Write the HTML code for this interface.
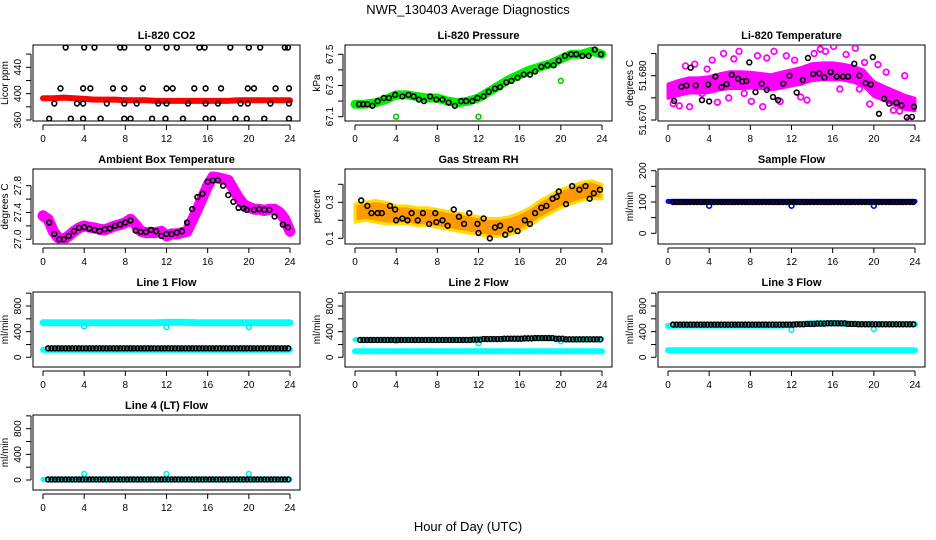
<!DOCTYPE html>
<html><head><meta charset="utf-8"><style>
body{margin:0;background:#fff}
svg{display:block;font-family:"Liberation Sans",sans-serif}
</style></head><body>
<svg id="chart" width="936" height="540" viewBox="0 0 936 540" xmlns="http://www.w3.org/2000/svg">
<rect width="936" height="540" fill="#fff"/>
<text x="468" y="14" font-size="13" text-anchor="middle">NWR_130403  Average Diagnostics</text>
<text x="468" y="531" font-size="13" text-anchor="middle">Hour of Day (UTC)</text>
</svg>
<script>
const hours = [0,1,2,3,4,5,6,7,8,9,10,11,12,13,14,15,16,17,18,19,20,21,22,23,24];
const halfHours = [0,0.5,1,1.5,2,2.5,3,3.5,4,4.5,5,5.5,6,6.5,7,7.5,8,8.5,9,9.5,10,10.5,11,11.5,12,12.5,13,13.5,14,14.5,15,15.5,16,16.5,17,17.5,18,18.5,19,19.5,20,20.5,21,21.5,22,22.5,23,23.5,24];
const xTicks = [0,4,8,12,16,20,24];

// CO2
const co2Band = [393,393,394,393,392,391,391,391,390,390,390,389,389,389,389,389,389,389,389,390,390,390,390,390,390];
const co2TopT = [2.2,4,5,7.5,7.9,10.2,12,13,15.2,15.7,18.2,20,21.1,23.5,23.8];
const co2MidT = [1.7,3.9,4.6,6.8,7.9,9.7,12,12.6,14.7,15.8,17.3,19.9,20.5,22.6,23.9];
const co2LowT = [1.1,3.3,3.9,6.2,7.9,9.1,11.2,12,14.1,15.8,17,19.2,19.9,22.1,23.9];
const co2BotT = [0.6,2.7,3.9,5.6,7.9,8.5,10.6,11.9,13.6,15.8,16.5,18.7,19.8,21.5,23.9];
const co2Levels = [470,408,385,362];

// Pressure
const presBand = [67.18,67.18,67.19,67.21,67.24,67.24,67.23,67.22,67.22,67.2,67.19,67.2,67.22,67.26,67.3,67.34,67.37,67.4,67.42,67.44,67.47,67.5,67.5,67.52,67.5];
const presOutT = [4,12,20];
const presOutV = [67.1,67.1,67.33];
const presBlackT = [0.4,0.8,1.2,1.7,2.2,2.8,3.3,3.9,4.6,5.2,5.7,6.2,6.7,7.3,7.9,8.5,9.1,9.7,10.3,10.8,11.4,11.9,12.5,13,13.6,14.1,14.7,15.2,15.8,16.4,17,17.5,18.1,18.7,19.3,19.8,20.4,21,21.5,22.1,22.7,23.3,23.9];
const presBlackV = [67.18,67.18,67.18,67.17,67.2,67.22,67.22,67.24,67.23,67.24,67.23,67.21,67.2,67.23,67.21,67.21,67.19,67.17,67.2,67.2,67.2,67.22,67.23,67.26,67.28,67.29,67.32,67.33,67.35,67.37,67.37,67.39,67.42,67.43,67.43,67.46,67.49,67.5,67.5,67.49,67.49,67.53,67.5];

// Li-820 temperature
const tempMid = [51.6765,51.6772,51.6778,51.6778,51.678,51.6786,51.679,51.679,51.679,51.6788,51.6785,51.679,51.6795,51.680,51.6808,51.681,51.681,51.6808,51.6803,51.6795,51.677,51.676,51.675,51.674,51.6735];
const tempHalf = [0.0016,0.0017,0.0017,0.0017,0.0018,0.0018,0.0019,0.0019,0.0018,0.0017,0.0017,0.0018,0.0018,0.0019,0.0019,0.0019,0.0019,0.0018,0.0018,0.0018,0.0017,0.0016,0.0016,0.0016,0.0014];
const tempScatT = [0.5,1.1,1.7,2.1,2.6,3.3,3.8,4.3,4.8,5.4,5.9,6.4,6.9,7.4,8.1,8.7,9.2,9.6,10.3,10.9,11.5,12.3,12.9,13.5,14.2,14.8,15.3,16.1,16.7,17.3,18.2,18.6,19.1,19.6,20.4,21.2,21.9,22.5,23,23.4];
const tempScatV = [51.6737,51.6732,51.6822,51.6730,51.6826,51.6760,51.6815,51.6835,51.6740,51.6850,51.6750,51.6838,51.6855,51.6760,51.6742,51.6845,51.6730,51.6840,51.6855,51.6742,51.6845,51.6835,51.6752,51.6745,51.6850,51.6860,51.6855,51.6866,51.6770,51.6848,51.6862,51.6770,51.6830,51.6736,51.6825,51.6808,51.6722,51.6720,51.6800,51.6700];
const tempBlackT = [0.6,1.3,1.8,2.2,2.7,3.3,3.9,4,4.6,5.2,5.7,6.2,6.8,7.2,7.6,7.9,8.5,9.1,9.6,10.2,10.7,11.2,11.8,12.5,13.1,13.6,14.1,14.7,15.2,15.8,16.4,17,17.5,18.1,18.6,19.2,19.7,19.9,20.5,21,21.5,22.2,22.7,23.2,23.7,23.9];
const tempBlackV = [51.6743,51.6775,51.6778,51.6818,51.6778,51.6745,51.6780,51.6742,51.6798,51.6774,51.6781,51.6802,51.6793,51.6787,51.6788,51.6830,51.6763,51.6782,51.6768,51.6752,51.6745,51.6782,51.6800,51.6762,51.6790,51.6840,51.6804,51.6805,51.6796,51.6808,51.6798,51.6798,51.6798,51.6827,51.6800,51.6783,51.6780,51.6842,51.6714,51.6748,51.6737,51.6739,51.6733,51.6706,51.6707,51.6730];

// Ambient box temperature
const ambBand = [27.35,27.3,27.12,27.02,27.0,27.05,27.12,27.17,27.2,27.18,27.17,27.15,27.14,27.17,27.2,27.22,27.25,27.3,27.22,27.12,27.1,27.1,27.1,27.12,27.05,27.08,27.08,27.1,27.12,27.28,27.45,27.62,27.8,27.93,27.92,27.9,27.88,27.75,27.62,27.52,27.48,27.45,27.45,27.43,27.45,27.45,27.4,27.3,27.12];
const ambBlackT = [0.6,1.1,1.6,2,2.5,3,3.5,4,4.5,5,5.5,6,6.5,7,7.5,8,8.5,9,9.5,10,10.5,11,11.5,12,12.5,13,13.5,14,14.5,15,15.5,16,16.5,17,17.5,18,18.5,19,19.5,19.8,20.5,21,21.5,22,22.5,23.3,23.8];
const ambBlackV = [27.25,27.08,27.0,27.0,27.05,27.12,27.17,27.18,27.16,27.14,27.12,27.15,27.16,27.2,27.22,27.25,27.28,27.13,27.11,27.11,27.14,27.12,27.05,27.08,27.08,27.1,27.12,27.25,27.45,27.63,27.68,27.86,27.88,27.88,27.8,27.66,27.56,27.47,27.46,27.44,27.44,27.45,27.44,27.44,27.34,27.22,27.18];

// Gas stream RH
const rhMid = [0.24,0.25,0.25,0.24,0.23,0.23,0.22,0.22,0.21,0.2,0.19,0.18,0.17,0.16,0.16,0.17,0.19,0.22,0.26,0.29,0.32,0.34,0.36,0.37,0.36];
const rhHalf = [0.05,0.05,0.06,0.06,0.05,0.05,0.05,0.05,0.05,0.05,0.05,0.05,0.05,0.05,0.05,0.05,0.05,0.05,0.05,0.05,0.05,0.05,0.05,0.05,0.04];
const rhBlackT = [0.6,1.2,1.6,2.2,2.6,3.4,3.9,4,4.6,5.1,5.5,6.1,6.6,7.2,7.8,7.9,8.5,9,9.6,10.1,10.6,11.1,11.9,12,12.5,13.1,13.6,14.1,14.6,15.1,15.8,16.5,17,17.5,18.1,18.6,19.2,19.6,19.8,20.5,21.1,21.8,22.4,22.8,23.2,23.8];
const rhBlackV = [0.31,0.28,0.24,0.24,0.24,0.28,0.26,0.2,0.21,0.2,0.24,0.2,0.24,0.18,0.24,0.19,0.2,0.17,0.26,0.22,0.18,0.24,0.18,0.13,0.21,0.1,0.16,0.17,0.12,0.15,0.14,0.2,0.18,0.24,0.27,0.28,0.32,0.33,0.36,0.29,0.39,0.37,0.39,0.32,0.35,0.37];

// Flows (hourly values)
const sampleBlue = [102,102,102,102,102,102,102,102,102,102,102,102,102,102,102,102,102,102,102,102,102,102,102,102,102];
const sampleBlack = [100,100,100,100,100,100,100,100,100,100,100,100,100,100,100,100,100,100,100,100,100,100,100,100,100];
const dipT = [4,12,20];
const sampleDip = [88,88,88];
const line1Upper = [540,540,540,540,540,540,540,540,540,540,540,540,545,545,545,540,540,540,540,540,540,540,540,540,540];
const line1Lower = [115,115,115,115,115,115,115,115,115,115,115,115,115,115,115,115,115,115,115,115,115,115,115,115,115];
const line1Black = [140,140,140,140,140,140,140,140,140,140,140,140,140,140,140,140,140,140,140,140,140,140,140,140,140];
const line1Dip = [480,470,470];
const line2Upper = [275,275,275,275,275,275,275,275,275,275,275,275,285,285,290,295,300,300,300,295,285,285,285,285,285];
const line2Lower = [95,95,95,95,95,95,95,95,95,95,95,95,95,95,95,95,95,95,95,95,95,95,95,95,95];
const line2Black = [270,270,270,270,270,270,270,270,270,270,270,275,285,285,290,290,295,300,300,290,280,280,280,280,280];
const line2Dip = [260,220,250];
const line3Upper = [490,495,495,495,495,495,495,495,495,495,495,495,510,520,530,530,535,525,520,520,515,515,515,515,515];
const line3Lower = [110,110,110,110,110,110,110,110,110,110,110,110,110,110,110,110,110,110,110,110,110,110,110,110,110];
const line3Black = [510,510,510,510,510,510,510,510,510,510,510,510,515,520,525,530,530,520,515,515,515,515,515,515,515];
const line3Dip = [500,430,440];
const line4Cyan = [10,10,10,10,10,10,10,10,10,10,10,10,10,10,10,10,10,10,10,10,10,10,10,10,10];
const line4Black = [8,8,8,8,8,8,8,8,8,8,8,8,8,8,8,8,8,8,8,8,8,8,8,8,8];
const line4Out = [95,95,95];

const svg = document.getElementById('chart');
const NS = 'http://www.w3.org/2000/svg';
const colX0 = [43,355,668];
const rowsTB = [[45,121],[169,244],[292,367],[415,490]];
const PXH = 247/24;

function mk(tag, attrs, parent){
  const e = document.createElementNS(NS, tag);
  for (const k in attrs) e.setAttribute(k, attrs[k]);
  (parent||svg).appendChild(e);
  return e;
}

function panel(name, title, ytitle, col, row, v1, p1, v2, p2, yTicks, yLabels, fmt){
  const g = mk('g', {});
  
  
  const x0 = colX0[col], top = rowsTB[row][0], bot = rowsTB[row][1];
  const left = x0 - 10, right = x0 + 257;
  const xs = h => x0 + h * PXH;
  const ys = v => p1 + (v - v1) * (p2 - p1) / (v2 - v1);
  const t = mk('text', {x:(left+right)/2, y: top - 6, 'font-size':11, 'font-weight':'bold', 'text-anchor':'middle'}, g);
  t.textContent = title;
  
  
  const box = mk('rect', {x:left, y:top, width:right-left, height:bot-top, fill:'none', stroke:'#000', 'stroke-width':1}, g);
  
  
  // x axis
  mk('line', {x1:xs(0), x2:xs(24), y1:bot+4, y2:bot+4, stroke:'#000'}, g);
  xTicks.forEach(h => {
    mk('line', {x1:xs(h), x2:xs(h), y1:bot+4, y2:bot+9, stroke:'#000'}, g);
    const l = mk('text', {x:xs(h), y:bot+21, 'font-size':10, 'text-anchor':'middle'}, g);
    l.textContent = h;
    
    
  });
  // y axis
  mk('line', {x1:left-2, x2:left-2, y1:ys(yTicks[0]), y2:ys(yTicks[yTicks.length-1]), stroke:'#000'}, g);
  yTicks.forEach(v => {
    mk('line', {x1:left-7, x2:left-2, y1:ys(v), y2:ys(v), stroke:'#000'}, g);
  });
  yLabels.forEach(v => {
    const yy = ys(v);
    const l = mk('text', {x:left-12, y:yy, 'font-size':10, 'text-anchor':'middle', transform:`rotate(-90 ${left-12} ${yy})`}, g);
    l.textContent = fmt(v);
    
    
  });
  const yt = mk('text', {x:left-25, y:(top+bot)/2, 'font-size':10, 'text-anchor':'middle', transform:`rotate(-90 ${left-25} ${(top+bot)/2})`}, g);
  yt.textContent = ytitle;
  
  
  const clip = 'clip' + col + row;
  const cp = mk('clipPath', {id:clip}, g);
  mk('rect', {x:left, y:top, width:right-left, height:bot-top}, cp);
  const data = mk('g', {'clip-path':`url(#${clip})`}, g);
  return {xs, ys, g:data};
}

function band(P, ts, vs, color, w, nm){
  const d = ts.map((t,i)=>(i?'L':'M')+P.xs(t).toFixed(1)+','+P.ys(vs[i]).toFixed(1)).join('');
  const p = mk('path', {d, fill:'none', stroke:color, 'stroke-width':w, 'stroke-linejoin':'round', 'stroke-linecap':'round'}, P.g);
  
  
}
function area(P, ts, mid, half, fill, stroke, nm){
  const up = ts.map((t,i)=>P.xs(t).toFixed(1)+','+P.ys(mid[i]+half[i]).toFixed(1));
  const dn = ts.map((t,i)=>P.xs(t).toFixed(1)+','+P.ys(mid[i]-half[i]).toFixed(1)).reverse();
  const p = mk('polygon', {points:up.concat(dn).join(' '), fill, stroke, 'stroke-width':3, 'stroke-linejoin':'round'}, P.g);
  
  
}
function pts(P, ts, vs, color, nm, r, sw){
  ts.forEach((t,i)=>{
    const c = mk('circle', {cx:P.xs(t), cy:P.ys(vs[i]), r:r||2.4, fill:'none', stroke:color, 'stroke-width':sw||1.6}, P.g);
    
    
  });
}
function hourlyPts(P, vals, color, nm){
  vals.forEach((v,i)=>{
    if (i >= 24) return;
    [0.5,0.83,1.17].forEach(o=>{
      const t = i + o;
      if (t > 23.95) return;
      const c = mk('circle', {cx:P.xs(t), cy:P.ys(v), r:2.4, fill:'none', stroke:color, 'stroke-width':1.6}, P.g);
      
      
    });
  });
}

const f0 = v => String(v);
// Row 1
let P = panel('co2-panel','Li-820 CO2','Licor ppm',0,0,360,120,440,67.3,[360,380,400,420,440,460],[360,400,440],f0);
band(P, hours, co2Band, '#ff0000', 6, 'co2-red-series');
[co2TopT,co2MidT,co2LowT,co2BotT].forEach((ts,k)=>pts(P, ts, ts.map(()=>co2Levels[k]), '#000', 'co2-black-point'));

P = panel('pressure-panel','Li-820 Pressure','kPa',1,0,67.1,116.7,67.5,54.3,[67.1,67.2,67.3,67.4,67.5],[67.1,67.3,67.5],v=>v.toFixed(1));
band(P, hours, presBand, '#00ee00', 9, 'pressure-green-series');
pts(P, presOutT, presOutV, '#00cc00', 'pressure-outlier');
pts(P, presBlackT, presBlackV, '#000', 'pressure-black-point');

P = panel('temp-panel','Li-820 Temperature','degrees C',2,0,51.670,120,51.680,75.7,[51.670,51.675,51.680,51.685],[51.670,51.680],v=>v.toFixed(3));
area(P, hours, tempMid, tempHalf, '#ff00ff', '#ff00ff', 'temp-magenta-series');
pts(P, tempScatT, tempScatV, '#ff00ff', 'temp-magenta-point', 2.8, 1.8);
pts(P, tempBlackT, tempBlackV, '#000', 'temp-black-point');

// Row 2
P = panel('ambient-panel','Ambient Box Temperature','degrees C',0,1,27.0,239.3,27.8,185.7,[27.0,27.2,27.4,27.6,27.8],[27.0,27.4,27.8],v=>v.toFixed(1));
band(P, halfHours, ambBand, '#ff00ff', 11, 'ambient-magenta-series');
pts(P, ambBlackT, ambBlackV, '#000', 'ambient-black-point');

P = panel('rh-panel','Gas Stream RH','percent',1,1,0.1,238.3,0.3,202.3,[0.1,0.2,0.3,0.4],[0.1,0.3],v=>v.toFixed(1));
area(P, hours, rhMid, rhHalf, '#ff9900', '#ffdd00', 'rh-orange-series');
pts(P, rhBlackT, rhBlackV, '#000', 'rh-black-point');

P = panel('sample-flow-panel','Sample Flow','ml/min',2,1,0,233.3,200,170.7,[0,50,100,150,200],[0,100,200],f0);
band(P, hours, sampleBlue, '#0000ff', 5, 'sample-blue-series');
pts(P, dipT, sampleDip, '#0000ff', 'sample-dip');
hourlyPts(P, sampleBlack, '#000', 'sample-black-point');

// Row 3
const flowTicks = [0,200,400,600,800,1000];
const flowLabels = [0,400,800];
P = panel('line1-panel','Line 1 Flow','ml/min',0,2,0,357.3,800,306,flowTicks,flowLabels,f0);
band(P, hours, line1Upper, '#00ffff', 7, 'line1-cyan-upper');
band(P, hours, line1Lower, '#00ffff', 6, 'line1-cyan-lower');
pts(P, dipT, line1Dip, '#00eeee', 'line1-dip');
hourlyPts(P, line1Black, '#000', 'line1-black-point');

P = panel('line2-panel','Line 2 Flow','ml/min',1,2,0,357.3,800,306,flowTicks,flowLabels,f0);
band(P, hours, line2Upper, '#00ffff', 5, 'line2-cyan-upper');
band(P, hours, line2Lower, '#00ffff', 6, 'line2-cyan-lower');
pts(P, dipT, line2Dip, '#00eeee', 'line2-dip');
hourlyPts(P, line2Black, '#000', 'line2-black-point');

P = panel('line3-panel','Line 3 Flow','ml/min',2,2,0,357.3,800,306,flowTicks,flowLabels,f0);
band(P, hours, line3Upper, '#00ffff', 6, 'line3-cyan-upper');
band(P, hours, line3Lower, '#00ffff', 6, 'line3-cyan-lower');
pts(P, dipT, line3Dip, '#00eeee', 'line3-dip');
hourlyPts(P, line3Black, '#000', 'line3-black-point');

// Row 4
P = panel('line4-panel','Line 4 (LT) Flow','ml/min',0,3,0,480,800,428.7,flowTicks,flowLabels,f0);
band(P, hours, line4Cyan, '#00ffff', 5, 'line4-cyan-series');
pts(P, dipT, line4Out, '#00eeee', 'line4-outlier');
hourlyPts(P, line4Black, '#000', 'line4-black-point');
</script>
</body></html>
